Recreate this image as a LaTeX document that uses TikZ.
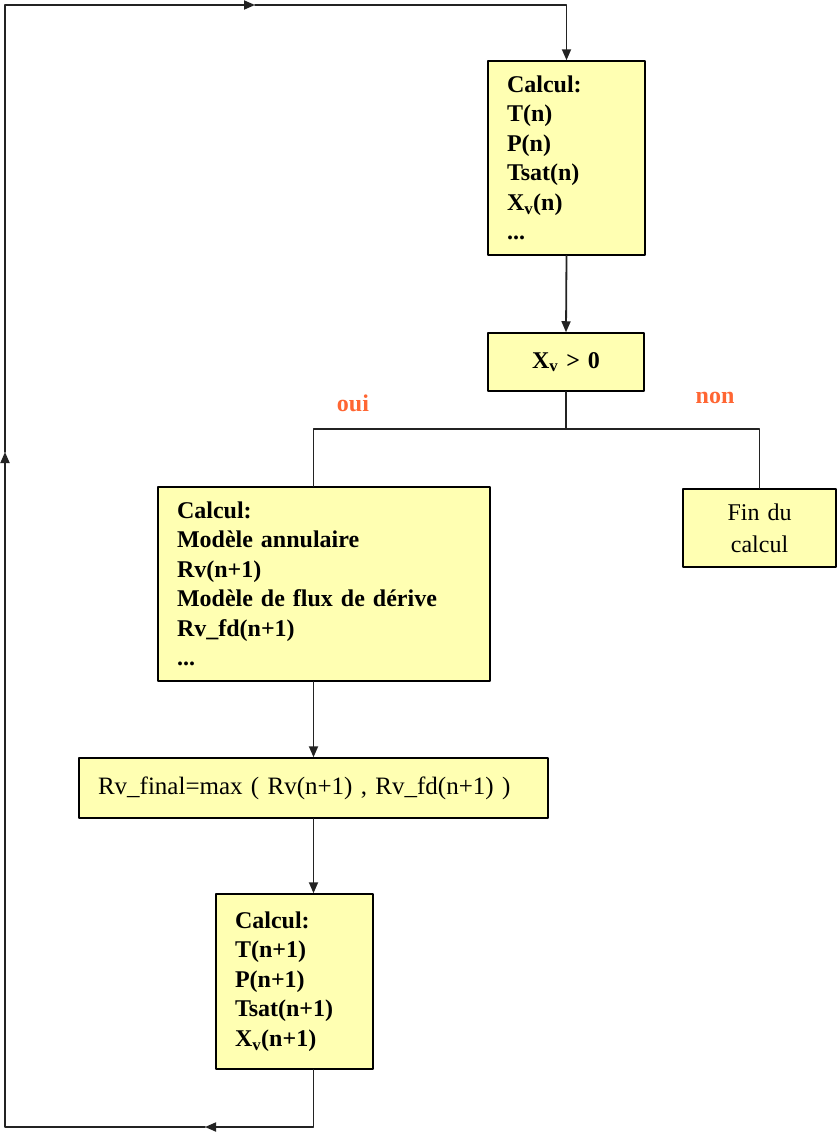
\documentclass[tikz,border=0pt]{standalone}
\usepackage{fontspec}
\setmainfont{Liberation Serif}
\usetikzlibrary{arrows.meta, positioning}
\definecolor{paleyellow}{RGB}{255, 255, 178}
\definecolor{ouiorange}{RGB}{255, 102, 51}
\definecolor{linegray}{RGB}{35, 35, 35}

\begin{document}
\begin{tikzpicture}[x=1pt, y=-1pt, line cap=round, line join=round, >={Triangle[length=11pt,width=9pt]},
	box/.style={draw=black, line width=1.5pt, fill=paleyellow, inner xsep=19pt, inner ysep=0pt, align=left, font=\fontsize{24}{29}\selectfont},
	calcbox/.style={box, font=\fontsize{24}{29.5}\selectfont\bfseries},
	link/.style={line width=1.8pt, draw=linegray},
	answer/.style={font=\fontsize{24}{29}\selectfont\bfseries, text=ouiorange}]
	\useasboundingbox (0,0) rectangle (838,1135);

	% boxes
	\node[calcbox, text width=119pt, minimum height=194pt] (calcn) at (566.5,158) {Calcul:\\T(n)\\P(n)\\Tsat(n)\\X\textsubscript{v}(n)\\...};
	\node[calcbox, align=center, text width=118pt, minimum height=58pt] (test) at (566,362) {X\textsubscript{v} > 0};
	\node[calcbox, text width=294pt, minimum height=194pt] (modele) at (324,584) {Calcul:\\Modèle annulaire\\Rv(n+1)\\Modèle de flux de dérive\\Rv\_fd(n+1)\\...};
	\node[box, align=center, text width=115pt, minimum height=78pt, font=\fontsize{24}{32}\selectfont] (fin) at (759.5,528) {Fin du\\calcul};
	\node[box, text width=431pt, minimum height=60pt, font=\fontsize{25}{29}\selectfont] (rvfinal) at (313.5,788) {Rv\_final=max ( Rv(n+1) , Rv\_fd(n+1) )};
	\node[calcbox, text width=119pt, minimum height=175pt] (calcnp) at (294.5,981.5) {Calcul:\\T(n+1)\\P(n+1)\\Tsat(n+1)\\X\textsubscript{v}(n+1)};

	% answers
	\node[answer] (oui) at (353,403) {oui};
	\node[answer] (non) at (715,398) {non};

	% test and branches
	\coordinate (split) at (566,429);
	\draw[link,->] (calcn.south) -- (test.north);
	\draw[link] (test.south) -- (split);
	\draw[link] (split) -| (rvfinal.north |- modele.north);
	\draw[link] (split) -| (fin.north);
	\draw[link,->] (rvfinal.north |- modele.south) -- (rvfinal.north);
	\draw[link,->] (rvfinal.south) -- (rvfinal.south |- calcnp.north);

	% loop back to the top
	\coordinate (loopA) at (205,1127);
	\coordinate (loopB) at (5,452);
	\coordinate (loopC) at (255,5);
	\draw[link,->] (rvfinal.south |- calcnp.south) |- (loopA);
	\draw[link,->] (loopA) -| (loopB);
	\draw[link,->] (loopB) |- (loopC);
	\draw[link,->] (loopC) -| (calcn.north);

\end{tikzpicture}
\end{document}
